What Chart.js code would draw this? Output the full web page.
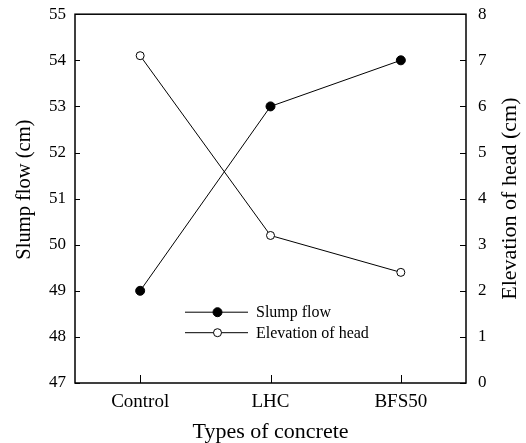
<!DOCTYPE html>
<html>
<head>
<meta charset="utf-8">
<script src="https://cdn.jsdelivr.net/npm/chart.js@4.4.0/dist/chart.umd.min.js"></script>
<style>
  html, body { margin: 0; padding: 0; background: #fff; }
  #wrap { width: 526px; height: 443px; }
</style>
</head>
<body>
<div id="wrap"><canvas id="myChart"></canvas></div>
<script>
const categories = ['Control', 'LHC', 'BFS50'];
const slumpFlow = [49, 53, 54];           // cm, left axis
const elevationOfHead = [7.1, 3.2, 2.4];  // cm, right axis
const seriesNames = ['Slump flow', 'Elevation of head'];
const leftTitle = 'Slump flow (cm)';
const rightTitle = 'Elevation of head (cm)';

const serif = 'Liberation Serif, Times New Roman, serif';

// frame, inward ticks and the two vertical axis titles
const framePlugin = {
  id: 'frame',
  afterDraw(chart) {
    const c = chart.ctx, a = chart.chartArea;
    const midY = (a.top + a.bottom) / 2;
    c.save();
    c.strokeStyle = '#000';
    c.lineWidth = 1.5;
    c.strokeRect(a.left, a.top, a.right - a.left, a.bottom - a.top);
    c.lineWidth = 1;
    const y = chart.scales.y, y2 = chart.scales.y2, x = chart.scales.x;
    c.beginPath();
    y.ticks.forEach(t => {
      const p = Math.round(y.getPixelForValue(t.value)) + 0.5;
      c.moveTo(a.left, p); c.lineTo(a.left + 5, p);
    });
    y2.ticks.forEach(t => {
      const p = Math.round(y2.getPixelForValue(t.value)) + 0.5;
      c.moveTo(a.right, p); c.lineTo(a.right - 6, p);
    });
    x.ticks.forEach((t, i) => {
      const p = Math.round(x.getPixelForTick(i)) + 0.5;
      c.moveTo(p, a.bottom); c.lineTo(p, a.bottom - 8);
    });
    c.stroke();

    c.fillStyle = '#000';
    c.textAlign = 'center';
    c.textBaseline = 'middle';

    c.save();
    c.font = '20.5px ' + serif;
    c.translate(a.left - 50, midY - 9);
    c.rotate(-Math.PI / 2);
    c.fillText(leftTitle, 0, 0);
    c.restore();

    // right axis title reads bottom-to-top in the original
    c.font = '22px ' + serif;
    c.translate(a.right + 44, midY);
    c.rotate(-Math.PI / 2);
    c.fillText(rightTitle, 0, 0);
    c.restore();
  }
};

// legend drawn inside the plot area
const insideLegend = {
  id: 'insideLegend',
  afterDraw(chart) {
    const c = chart.ctx, a = chart.chartArea;
    const x0 = a.left + 110, x1 = a.left + 173;
    c.save();
    c.font = '16px ' + serif;
    c.textBaseline = 'middle';
    chart.data.datasets.forEach((ds, i) => {
      const yy = a.top + 298 + i * 20.5;
      c.strokeStyle = '#000';
      c.lineWidth = 1;
      c.beginPath();
      c.moveTo(x0, yy); c.lineTo(x1, yy);
      c.stroke();
      c.beginPath();
      c.arc((x0 + x1) / 2 + 1, yy, ds.pointRadius, 0, Math.PI * 2);
      c.fillStyle = ds.pointBackgroundColor;
      c.fill();
      c.stroke();
      c.fillStyle = '#000';
      c.fillText(ds.label, x1 + 8, yy + 1);
    });
    c.restore();
  }
};

const ctx = document.getElementById('myChart');

const config = {
  type: 'line',
  data: {
    labels: categories,
    datasets: [
      {
        label: seriesNames[0],
        data: slumpFlow,
        yAxisID: 'y',
        borderColor: '#000',
        borderWidth: 1,
        pointRadius: 4.5,
        pointBackgroundColor: '#000',
        pointBorderColor: '#000',
        pointBorderWidth: 1,
        tension: 0
      },
      {
        label: seriesNames[1],
        data: elevationOfHead,
        yAxisID: 'y2',
        borderColor: '#000',
        borderWidth: 1,
        pointRadius: 4,
        pointBackgroundColor: '#fff',
        pointBorderColor: '#000',
        pointBorderWidth: 1,
        tension: 0
      }
    ]
  },
  options: {
    responsive: true,
    maintainAspectRatio: false,
    animation: false,
    layout: { padding: { top: 13, left: 0, right: 0, bottom: 0 } },
    plugins: {
      legend: { display: false },
      tooltip: { enabled: false }
    },
    scales: {
      x: {
        type: 'category',
        offset: true,
        grid: { display: false },
        border: { display: false },
        ticks: { color: '#000', font: { family: serif, size: 19 }, padding: 0 },
        title: {
          display: true, text: 'Types of concrete', color: '#000',
          font: { family: serif, size: 22, lineHeight: 1 }, padding: { top: 0, bottom: 0 }
        },
        afterFit(s) { s.height = 60; }
      },
      y: {
        position: 'left',
        min: 47, max: 55,
        grid: { display: false },
        border: { display: false },
        ticks: { stepSize: 1, color: '#000', font: { family: serif, size: 17 }, padding: 1 },
        afterFit(s) { s.width = 75; }
      },
      y2: {
        position: 'right',
        min: 0, max: 8,
        grid: { display: false },
        border: { display: false },
        ticks: { stepSize: 1, color: '#000', font: { family: serif, size: 17 }, padding: 4 },
        afterFit(s) { s.width = 60; }
      }
    }
  },
  plugins: [framePlugin, insideLegend]
};

let chart = new Chart(ctx, config);
</script>
</body>
</html>
